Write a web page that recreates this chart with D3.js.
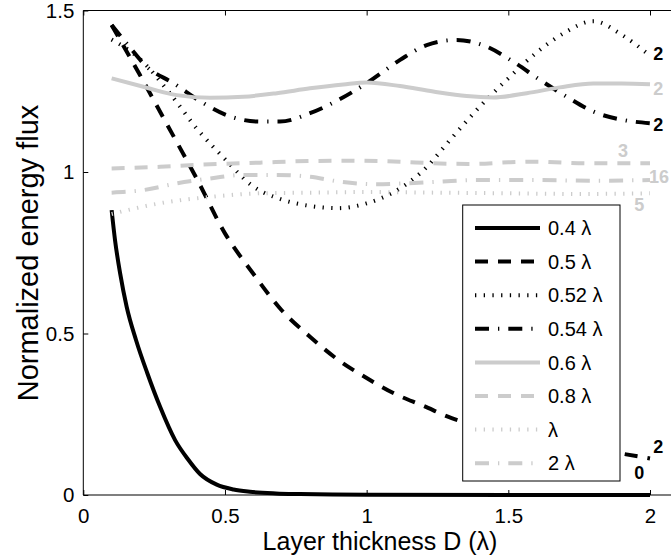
<!DOCTYPE html>
<html>
<head>
<meta charset="utf-8">
<script src="https://cdn.jsdelivr.net/npm/d3@7"></script>
<style>
  html, body { margin: 0; padding: 0; background: #fff; }
  svg { display: block; font-family: "Liberation Sans", Arial, Helvetica, sans-serif; }
</style>
</head>
<body>
<svg id="chart" width="671" height="560"></svg>
<script>
// ---------- data ----------
const xTicks = [0, 0.5, 1, 1.5, 2];
const xTickLabels = ["0", "0.5", "1", "1.5", "2"];
const yTicks = [0, 0.5, 1, 1.5];
const yTickLabels = ["0", "0.5", "1", "1.5"];

const seriesNames = ["0.4 λ", "0.5 λ", "0.52 λ", "0.54 λ", "0.6 λ", "0.8 λ", "λ", "2 λ"];

const x04 = [0.1, 0.112, 0.13, 0.153, 0.186, 0.226, 0.271, 0.324, 0.37, 0.412, 0.471, 0.53, 0.588, 0.68, 0.765, 1.0, 1.5, 2.0];
const y04 = [0.882, 0.789, 0.686, 0.583, 0.48, 0.377, 0.273, 0.17, 0.11, 0.065, 0.032, 0.017, 0.01, 0.005, 0.003, 0.0005, 0, 0];

const x05 = [0.1, 0.2, 0.3, 0.4, 0.5, 0.6, 0.7, 0.8, 0.9, 1.0, 1.1, 1.2, 1.3, 1.4, 1.5, 1.6, 1.7, 1.8, 1.9, 2.0];
const y05 = [1.455, 1.30, 1.14, 0.98, 0.81, 0.685, 0.572, 0.49, 0.418, 0.362, 0.313, 0.276, 0.238, 0.212, 0.19, 0.17, 0.155, 0.14, 0.128, 0.113];

const x052 = [0.1, 0.2, 0.3, 0.4, 0.5, 0.6, 0.7, 0.8, 0.9, 1.0, 1.1, 1.2, 1.3, 1.4, 1.5, 1.6, 1.7, 1.8, 1.9, 2.0];
const y052 = [1.41, 1.35, 1.25, 1.135, 1.04, 0.955, 0.915, 0.895, 0.888, 0.903, 0.94, 1.005, 1.105, 1.203, 1.29, 1.37, 1.432, 1.467, 1.425, 1.36];

const x054 = [0.1, 0.153, 0.224, 0.318, 0.424, 0.506, 0.624, 0.694, 0.8, 0.894, 1.0, 1.118, 1.212, 1.318, 1.424, 1.518, 1.612, 1.706, 1.8, 1.906, 2.0];
const y054 = [1.455, 1.398, 1.326, 1.275, 1.213, 1.176, 1.156, 1.156, 1.182, 1.22, 1.275, 1.347, 1.393, 1.409, 1.388, 1.341, 1.285, 1.233, 1.187, 1.161, 1.151];

const x06 = [0.1, 0.212, 0.33, 0.447, 0.565, 0.683, 0.8, 0.918, 1.0, 1.118, 1.235, 1.353, 1.447, 1.565, 1.682, 1.8, 1.9, 2.0];
const y06 = [1.29, 1.264, 1.238, 1.23, 1.233, 1.244, 1.259, 1.271, 1.277, 1.266, 1.249, 1.235, 1.231, 1.244, 1.262, 1.274, 1.274, 1.272];

const x08 = [0.1, 0.271, 0.447, 0.624, 0.8, 0.953, 1.118, 1.235, 1.376, 1.5, 1.6, 1.777, 2.0];
const y08 = [1.011, 1.016, 1.024, 1.029, 1.034, 1.035, 1.032, 1.027, 1.025, 1.03, 1.032, 1.027, 1.027];

const x1 = [0.1, 0.27, 0.45, 0.62, 0.8, 1.0, 1.25, 1.5, 1.75, 2.0];
const y1 = [0.87, 0.903, 0.923, 0.934, 0.936, 0.938, 0.936, 0.934, 0.932, 0.934];

const x2 = [0.1, 0.212, 0.33, 0.447, 0.565, 0.683, 0.8, 0.906, 1.035, 1.141, 1.259, 1.376, 1.494, 1.612, 1.8, 2.0];
const y2 = [0.936, 0.944, 0.965, 0.98, 0.991, 0.991, 0.985, 0.97, 0.962, 0.965, 0.97, 0.975, 0.975, 0.975, 0.973, 0.975];

// end-of-curve annotations (text, data x, data y, tone)
const endLabelText = ["2", "2", "2", "3", "16", "5", "2", "0"];
const endLabelX = [2.029, 2.029, 2.029, 1.905, 2.032, 1.962, 2.029, 1.962];
const endLabelY = [1.368, 1.26, 1.146, 1.068, 0.985, 0.898, 0.149, 0.071];
const endLabelTone = ["k", "g", "k", "g", "g", "g", "k", "k"];

// ---------- layout & styles ----------
const BLACK = "#000000", GRAY = "#cccccc";
const styles = [
  { color: BLACK, width: 4, dash: null },
  { color: BLACK, width: 4, dash: "13,10" },
  { color: BLACK, width: 4, dash: "1.3,7.4" },
  { color: BLACK, width: 4, dash: "14,9,1.3,9" },
  { color: GRAY, width: 4, dash: null },
  { color: GRAY, width: 4, dash: "13,10" },
  { color: GRAY, width: 4, dash: "1.3,7.4" },
  { color: GRAY, width: 4, dash: "14,9,1.3,9" }
];
const seriesX = [x04, x05, x052, x054, x06, x08, x1, x2];
const seriesY = [y04, y05, y052, y054, y06, y08, y1, y2];

const svg = d3.select("#chart");
svg.append("rect").attr("width", 671).attr("height", 560).attr("fill", "#fff");

const pLeft = 83.3, pRight = 650, pTop = 10.5, pBottom = 495, boxRight = 678;
const x = d3.scaleLinear().domain([0, 2]).range([pLeft, pRight]);
const y = d3.scaleLinear().domain([0, 1.5]).range([pBottom, pTop]);

// curves
const line = d3.line().x(d => x(d[0])).y(d => y(d[1])).curve(d3.curveMonotoneX);
const gLines = svg.append("g");
seriesX.forEach((xs, i) => {
  const pts = xs.map((v, j) => [v, seriesY[i][j]]);
  const s = styles[i];
  gLines.append("path")
    .attr("d", line(pts))
    .attr("fill", "none")
    .attr("stroke", s.color)
    .attr("stroke-width", s.width)
    .attr("stroke-dasharray", s.dash)
    .attr("stroke-linejoin", "round");
});

// axes box (right side falls outside the picture)
const gAx = svg.append("g");
gAx.append("line").attr("x1", pLeft).attr("x2", boxRight).attr("y1", pTop).attr("y2", pTop).attr("stroke", "#000").attr("stroke-width", 1);
gAx.append("line").attr("x1", pLeft).attr("x2", boxRight).attr("y1", pBottom).attr("y2", pBottom).attr("stroke", "#000").attr("stroke-width", 1.2);
gAx.append("line").attr("x1", pLeft).attr("x2", pLeft).attr("y1", pTop).attr("y2", pBottom).attr("stroke", "#000").attr("stroke-width", 1);

const xAxis = d3.axisBottom(x).tickValues(xTicks).tickFormat((d, i) => xTickLabels[i]).tickSize(-5).tickSizeOuter(0).tickPadding(13);
const gx = svg.append("g").attr("transform", `translate(0,${pBottom})`).call(xAxis);
gx.select(".domain").remove();
gx.selectAll("text").attr("font-size", 20.5).attr("font-family", "Liberation Sans, Arial, sans-serif").attr("fill", "#000");
gx.selectAll("line").attr("stroke", "#000");

const xAxisTop = d3.axisTop(x).tickValues(xTicks).tickFormat("").tickSize(-5).tickSizeOuter(0);
const gxt = svg.append("g").attr("transform", `translate(0,${pTop})`).call(xAxisTop);
gxt.select(".domain").remove();
gxt.selectAll("line").attr("stroke", "#000");

const yAxis = d3.axisLeft(y).tickValues(yTicks).tickFormat((d, i) => yTickLabels[i]).tickSize(-5).tickSizeOuter(0).tickPadding(9);
const gy = svg.append("g").attr("transform", `translate(${pLeft},0)`).call(yAxis);
gy.select(".domain").remove();
gy.selectAll("text").attr("font-size", 20.5).attr("font-family", "Liberation Sans, Arial, sans-serif").attr("fill", "#000");
gy.selectAll("line").attr("stroke", "#000");

// axis titles
svg.append("text").attr("x", 380).attr("y", 550).attr("text-anchor", "middle")
  .attr("font-size", 25).attr("fill", "#000").text("Layer thickness D (λ)");
svg.append("text").attr("transform", "translate(38,253) rotate(-90)").attr("text-anchor", "middle")
  .attr("font-size", 29).attr("fill", "#000").text("Normalized energy flux");

// end labels
endLabelText.forEach((t, i) => {
  svg.append("text")
    .attr("x", x(endLabelX[i])).attr("y", y(endLabelY[i]))
    .attr("text-anchor", "middle").attr("dy", "0.36em")
    .attr("font-size", 18).attr("font-weight", "bold")
    .attr("fill", endLabelTone[i] === "k" ? BLACK : GRAY)
    .text(t);
});

// legend
const lg = svg.append("g");
const lgX = 462.7, lgY = 205, lgW = 157.3, lgH = 276, rowY0 = 228, rowStep = 33.6;
lg.append("rect").attr("x", lgX).attr("y", lgY).attr("width", lgW).attr("height", lgH)
  .attr("fill", "#fff").attr("stroke", "#000").attr("stroke-width", 1);
seriesNames.forEach((name, i) => {
  const ry = rowY0 + i * rowStep;
  const s = styles[i];
  lg.append("line").attr("x1", 475).attr("x2", 540).attr("y1", ry).attr("y2", ry)
    .attr("stroke", s.color).attr("stroke-width", s.width).attr("stroke-dasharray", s.dash);
  lg.append("text").attr("x", 548).attr("y", ry).attr("dy", "0.36em")
    .attr("font-size", 20).attr("fill", "#000").text(name);
});
</script>
</body>
</html>
